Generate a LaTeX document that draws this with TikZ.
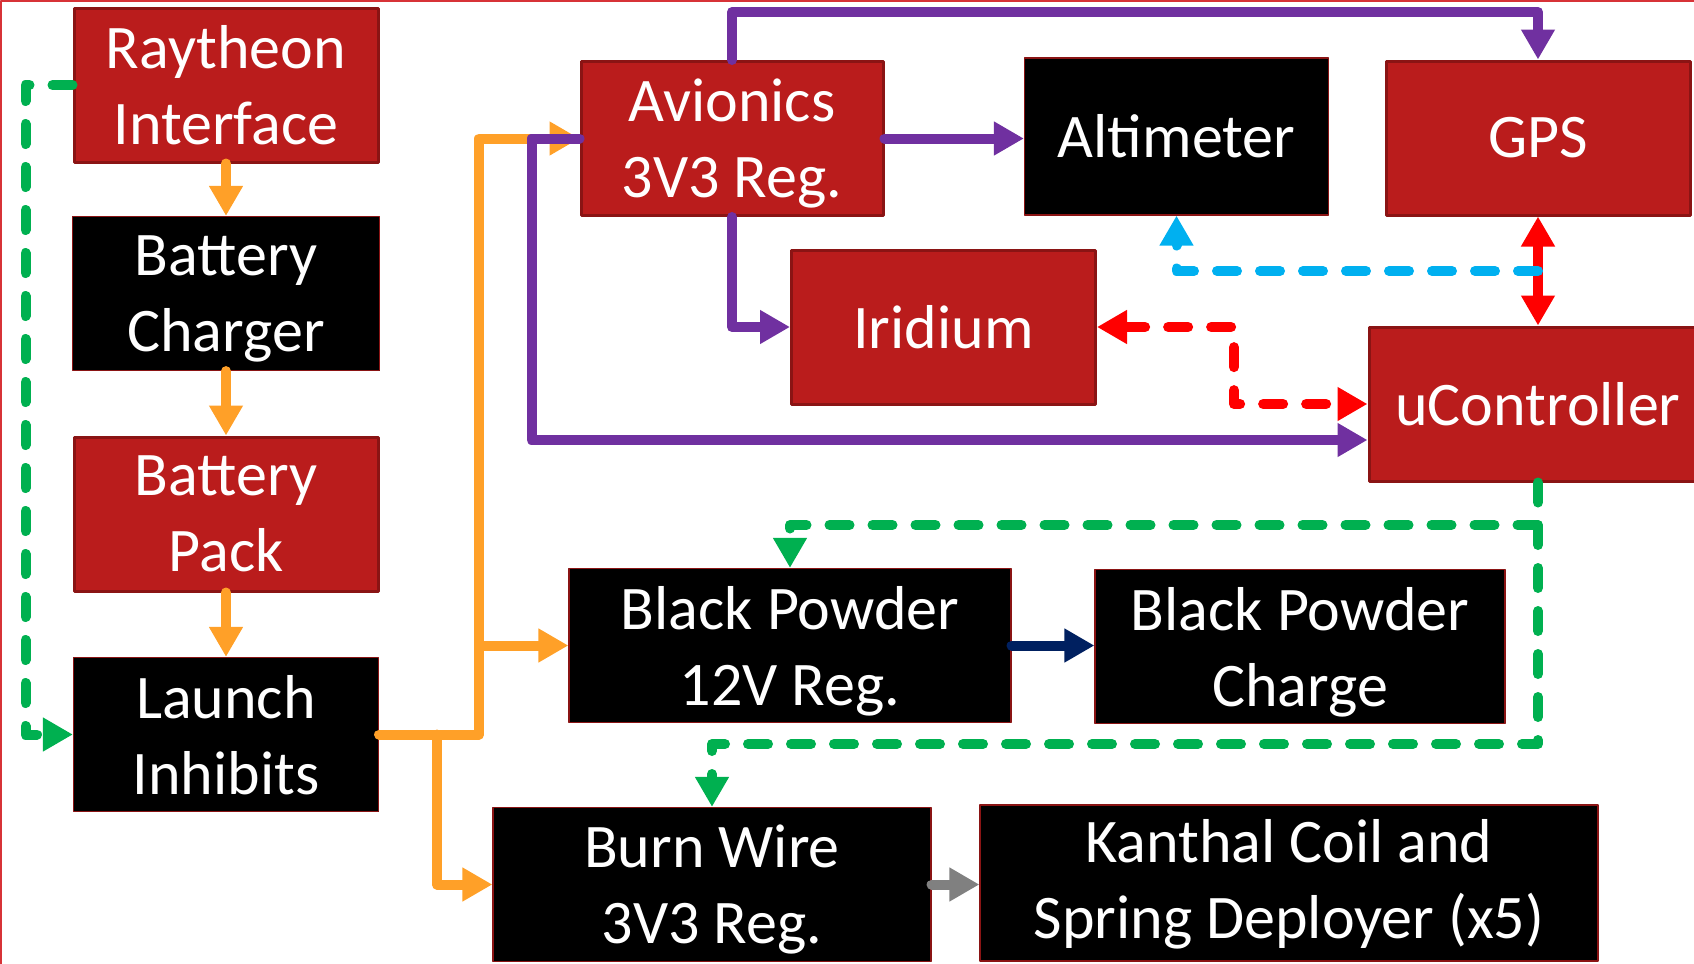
\documentclass[tikz,border=0pt]{standalone}
\usepackage{fontspec}
\setmainfont{Carlito}
\usepackage{xcolor}
\usetikzlibrary{arrows.meta, calc}

\definecolor{boxred}{RGB}{186,28,28}
\definecolor{boxedge}{RGB}{138,20,20}
\definecolor{powerorange}{RGB}{255,160,40}
\definecolor{busviolet}{RGB}{112,48,160}
\definecolor{sigred}{RGB}{255,0,0}
\definecolor{sigcyan}{RGB}{0,176,240}
\definecolor{triggreen}{RGB}{0,176,80}
\definecolor{chargenavy}{RGB}{0,32,96}
\definecolor{wiregray}{RGB}{128,128,128}
\definecolor{framered}{RGB}{215,50,55}

\begin{document}
\begin{tikzpicture}[
    x=0.5pt, y=-0.5pt,
    line cap=round, line join=round,
    redbox/.style={
        rectangle,
        draw=boxedge,
        line width=1.5pt,
        fill=boxred,
        text=white,
        align=center,
        inner sep=0pt,
        minimum width=152pt,
        minimum height=77pt,
        font=\fontsize{31}{38}\selectfont
    },
    blackbox/.style={
        redbox,
        line width=0.6pt,
        fill=black
    },
    twoline/.style={
        text depth=0pt
    },
    link/.style={
        line width=5pt,
        -{Triangle[length=15pt, width=16pt]}
    },
    twoway/.style={
        line width=5pt,
        {Triangle[length=15pt, width=16pt]}-{Triangle[length=15pt, width=16pt]}
    },
    dashlink/.style={
        link,
        dash pattern=on 10pt off 11.5pt
    }
]

    \useasboundingbox (0,0) rectangle (1694,964);
    \clip (0,0) rectangle (1694,964);

    % outer slide frame
    \draw [framered, line width=0.7pt] (1,964) -- (1,1) -- (1694,1);

    % =========================================================
    % POWER CHAIN (LEFT COLUMN)
    % =========================================================
    \node [redbox, twoline] (raytheon) at (226,85) {Raytheon\\Interface};
    \node [blackbox, twoline, minimum width=153.5pt] (charger) at (226,293.5) {Battery\\Charger};
    \node [redbox, twoline] (pack) at (226,514) {Battery\\Pack};
    \node [blackbox, twoline, minimum width=152.5pt] (launch) at (226,734.5) {Launch\\Inhibits};

    % =========================================================
    % AVIONICS BLOCKS
    % =========================================================
    \node [redbox, twoline, minimum width=151pt] (avionics) at (732,138.5) {Avionics\\3V3 Reg.};
    \node [blackbox, minimum height=78.5pt] (altimeter) at (1176.5,136.5) {Altimeter};
    \node [redbox] (gps) at (1538,138) {GPS};
    \node [redbox] (iridium) at (943.5,327) {Iridium};
    \node [redbox, minimum width=169pt] (uctrl) at (1538,404) {uController};

    % =========================================================
    % DEPLOYMENT BLOCKS
    % =========================================================
    \node [blackbox, twoline, minimum width=221pt] (bpreg) at (790,645.5) {Black Powder\\12V Reg.};
    \node [blackbox, twoline, minimum width=205pt] (bpcharge) at (1300,646.5) {Black Powder\\Charge};
    \node [blackbox, twoline, minimum width=219pt] (burnreg) at (712,884.5) {Burn Wire\\3V3 Reg.};
    \node [blackbox, text depth=4.5pt, minimum width=309pt, minimum height=78pt] (kanthal) at (1289,883) {Kanthal Coil and\\Spring Deployer (x5)};

    % =========================================================
    % POWER DISTRIBUTION
    % =========================================================
    \draw [link, powerorange] (raytheon.south) -- (charger.north);
    \draw [link, powerorange] (charger.south) -- (pack.north);
    \draw [link, powerorange] (pack.south) -- (launch.north);

    \coordinate (jup) at (479,734.5);
    \coordinate (jdown) at (437,734.5);
    \draw [link, powerorange] (launch.east) -- (jup) |- (avionics.west);
    \draw [link, powerorange] (jup |- bpreg.west) -- (bpreg.west);
    \draw [link, powerorange] (jdown) |- (burnreg.west);

    % 3V3 avionics rail
    \draw [link, busviolet] (avionics.north) -- ++(0,-48) -| (gps.north);
    \draw [link, busviolet] (avionics.east) -- (avionics.east -| altimeter.west);
    \draw [link, busviolet] (avionics.south) |- (iridium.west);
    \draw [link, busviolet] (avionics.west) -- ++(-48,0) |- ($(uctrl.west)+(0,36)$);

    % =========================================================
    % DATA LINKS
    % =========================================================
    \draw [twoway, sigred] (gps.south) -- (uctrl.north);
    \draw [dashlink, sigcyan] ($(gps.south)!0.5!(uctrl.north)$) -| (altimeter.south);
    \draw [twoway, sigred, dash pattern=on 10pt off 11.5pt] (iridium.east) -- ++(137,0) |- (uctrl.west);

    % deployment triggers
    \draw [dashlink, triggreen] (raytheon.west) -- ++(-47,0) |- (launch.west);
    \coordinate (gsplit) at (1538,525);
    \coordinate (glow) at (1538,744);
    \draw [dashlink, triggreen] (uctrl.south) -- (gsplit) -| (bpreg.north);
    \draw [dashlink, triggreen] (gsplit) -- (glow) -| (burnreg.north);

    \draw [link, chargenavy] (bpreg.east) -- (bpreg.east -| bpcharge.west);
    \draw [link, wiregray] (burnreg.east) -- (burnreg.east -| kanthal.west);

\end{tikzpicture}
\end{document}
